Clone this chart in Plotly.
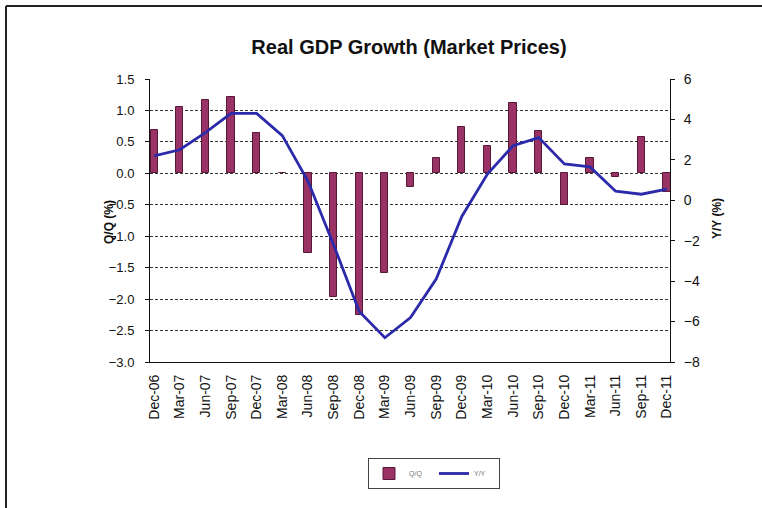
import plotly.graph_objects as go

# Quarterly real GDP growth at market prices
quarters = ["Dec-06", "Mar-07", "Jun-07", "Sep-07", "Dec-07", "Mar-08", "Jun-08",
            "Sep-08", "Dec-08", "Mar-09", "Jun-09", "Sep-09", "Dec-09", "Mar-10",
            "Jun-10", "Sep-10", "Dec-10", "Mar-11", "Jun-11", "Sep-11", "Dec-11"]
qq = [0.69, 1.05, 1.17, 1.21, 0.64, 0.01, -1.27, -1.97, -2.25, -1.58, -0.21,
      0.24, 0.74, 0.43, 1.12, 0.68, -0.50, 0.25, -0.06, 0.57, -0.29]
yy = [2.2, 2.5, 3.35, 4.3, 4.3, 3.2, 0.95, -2.2, -5.5, -6.8, -5.8,
      -3.9, -0.8, 1.3, 2.7, 3.1, 1.8, 1.65, 0.45, 0.3, 0.55]

W, H = 762, 508
L, R, T, B = 150, 670, 79, 362  # plot area in pixels

idx = list(range(len(quarters)))

fig = go.Figure()
fig.add_trace(go.Bar(
    x=idx, y=qq, name="Q/Q", width=0.28,
    marker=dict(color="#993366", line=dict(color="#5a1838", width=1)),
    yaxis="y",
))
fig.add_trace(go.Scatter(
    x=idx, y=yy, name="Y/Y", mode="lines",
    line=dict(color="#2a2aaa", width=2.8),
    yaxis="y2",
))

def px_x(p):
    return (p - L) / (R - L)

def px_y(p):
    return (B - p) / (B - T)

font = "Liberation Sans, Arial, sans-serif"

fig.update_layout(
    width=W, height=H,
    margin=dict(l=L, r=W - R, t=T, b=H - B),
    paper_bgcolor="white", plot_bgcolor="white",
    font=dict(family=font, size=13, color="#111"),
    title=dict(text="<b>Real GDP Growth (Market Prices)</b>",
               x=px_x(409), xref="paper", xanchor="center",
               y=1 - 47 / H, yanchor="middle",
               font=dict(size=20, family=font, color="#111")),
    xaxis=dict(
        range=[-0.16, 20.12], tickmode="array", tickvals=idx, ticktext=quarters,
        tickangle=-90, showgrid=False, zeroline=False,
        showline=True, linecolor="#111", linewidth=1, ticks="",
        tickfont=dict(size=14), ticklabelstandoff=6,
    ),
    yaxis=dict(
        range=[-3, 1.5], dtick=0.5, tickformat=".1f",
        showgrid=True, gridcolor="#333", griddash="3px,2px", gridwidth=1,
        zeroline=False, showline=True, linecolor="#111", linewidth=1,
        ticks="outside", ticklen=4, tickcolor="#111",
        tickfont=dict(size=13), ticklabelstandoff=8,
    ),
    yaxis2=dict(
        range=[-8, 6], dtick=2, overlaying="y", side="right",
        showgrid=False, zeroline=False, showline=True, linecolor="#111",
        linewidth=1, ticks="outside", ticklen=4, tickcolor="#111",
        tickfont=dict(size=14), ticklabelstandoff=6,
    ),
    bargap=0,
    showlegend=True,
    legend=dict(
        orientation="h", x=px_x(368), y=px_y(458), xanchor="left", yanchor="top",
        bordercolor="#444", borderwidth=1, bgcolor="white",
        font=dict(size=7, color="#777"), itemwidth=30,
        entrywidth=20, entrywidthmode="pixels",
    ),
    annotations=[
        dict(text="<b>Q/Q (%)</b>", x=px_x(100), y=px_y(222), xref="paper",
             yref="paper", textangle=-90, showarrow=False,
             font=dict(size=12, family=font, color="#111")),
        dict(text="<b>Y/Y (%)</b>", x=px_x(726), y=px_y(219), xref="paper",
             yref="paper", textangle=-90, showarrow=False,
             font=dict(size=12, family=font, color="#111")),
    ],
    shapes=[
        # outer frame: top and left edges
        dict(type="line", xref="paper", yref="paper",
             x0=px_x(6), x1=px_x(W + 5), y0=px_y(6), y1=px_y(6),
             line=dict(color="#222", width=2)),
        dict(type="line", xref="paper", yref="paper",
             x0=px_x(6), x1=px_x(6), y0=px_y(6), y1=px_y(H + 5),
             line=dict(color="#222", width=2)),
    ],
)

fig.write_html("out.html")
